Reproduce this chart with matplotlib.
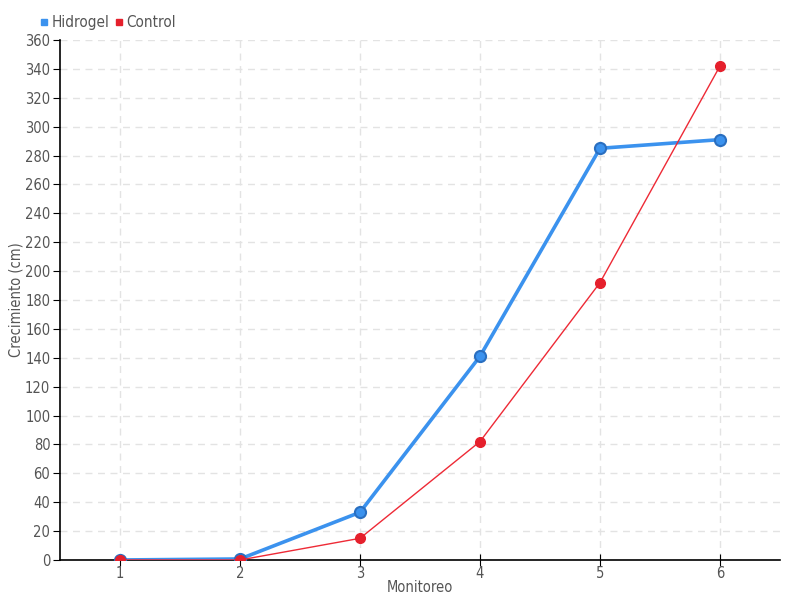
import matplotlib.pyplot as plt
from matplotlib.lines import Line2D

monitoreo = [1, 2, 3, 4, 5, 6]
hidrogel = [0, 0.7, 33, 141, 285, 291]
control = [0, 0, 15, 82, 192, 342]

plt.rcParams['font.family'] = ['DejaVu Sans']
plt.rcParams['font.stretch'] = 'condensed'

fig = plt.figure(figsize=(8, 6), dpi=100)
ax = fig.add_axes([0.075, 0.0667, 0.9, 0.8667])

ax.plot(monitoreo, hidrogel, color='#3b92ee', lw=2.6, marker='o', ms=8,
        mfc='#3b92ee', mec='#2a6fc0', mew=1.5, zorder=3)
ax.plot(monitoreo, control, color='#ee2a36', lw=1, marker='o', ms=7,
        mfc='#e5202c', mec='#e5202c', zorder=4)

ax.set_xlim(0.5, 6.5)
ax.set_ylim(0, 360)
ax.set_xticks(monitoreo)
ax.set_yticks(range(0, 361, 20))
ax.grid(True, color='#e3e3e3', linestyle=(0, (5, 4)), lw=1)
ax.set_axisbelow(True)
for s in ['top', 'right']:
    ax.spines[s].set_visible(False)
ax.spines['left'].set_linewidth(1.2)
ax.spines['bottom'].set_linewidth(1.2)
ax.tick_params(axis='y', length=5, labelsize=10.5, labelcolor='#555555', pad=2)
ax.tick_params(axis='x', direction='inout', length=8, labelsize=10.5,
               labelcolor='#555555', pad=0)

ax.set_xlabel('Monitoreo', fontsize=10.5, color='#555555')
ax.set_ylabel('Crecimiento (cm)', fontsize=10.5, color='#555555')
ax.xaxis.set_label_coords(0.5, -0.038)
ax.yaxis.set_label_coords(-0.05, 0.5)

handles = [Line2D([], [], ls='none', marker='s', ms=5, color='#3b92ee'),
           Line2D([], [], ls='none', marker='s', ms=5, color='#e5202c')]
ax.legend(handles, ['Hidrogel', 'Control'], loc='center left',
          bbox_to_anchor=(-0.026, 1.033), ncol=2, frameon=False,
          handlelength=0.4, handletextpad=0.3, columnspacing=0.4, fontsize=11,
          labelcolor='#555555', borderaxespad=0, borderpad=0)

fig.savefig('out.png', dpi=100)
